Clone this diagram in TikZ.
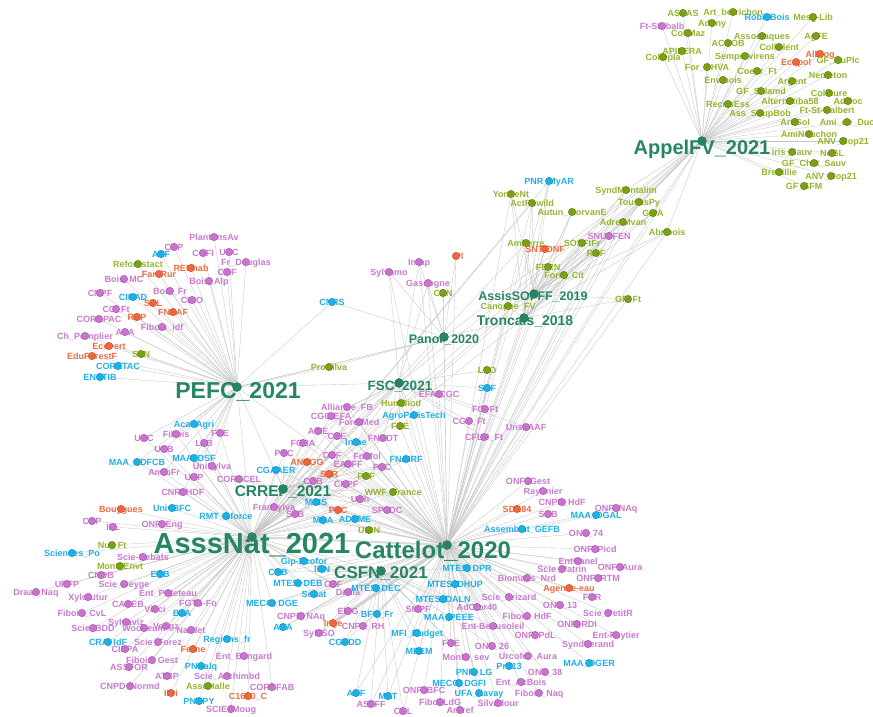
\documentclass[tikz,border=0pt]{standalone}
\usepackage{fontspec}
\setmainfont{Liberation Sans}
\usetikzlibrary{backgrounds}

\definecolor{hubc}{RGB}{38,134,100}
\definecolor{grc}{RGB}{122,160,20}
\definecolor{grt}{RGB}{150,180,45}
\definecolor{pkc}{RGB}{204,112,210}
\definecolor{pkt}{RGB}{200,122,205}
\definecolor{cyc}{RGB}{24,178,235}
\definecolor{cyt}{RGB}{30,175,230}
\definecolor{orc}{RGB}{240,102,58}
\definecolor{ort}{RGB}{236,108,66}

\tikzset{
  edge/.style={gray!45, line width=0.35pt},
  lbl/.style={font=\bfseries\fontsize{9}{9}\selectfont, text height=6.5pt, text depth=0pt, inner sep=0pt},
  dot/.style={circle, fill=#1, draw=#1!70!black, line width=0.3pt, minimum size=7.5pt, inner sep=0pt},
  hub/.style={circle, fill=hubc, draw=hubc!70!black, line width=0.3pt, minimum size=9pt, inner sep=0pt},
  hubtxt/.style={text=hubc, font=\bfseries\fontsize{#1}{#1}\selectfont, text height={0.72*#1pt}, text depth=0pt, inner sep=0pt}
}

% small node: label, then dot on top
\newcommand{\nd}[4]{%
  \node[lbl, text=#3t] (#1t) at (#2) {#4};
  \node[dot=#3c] (#1) at (#2) {};}
% hub: dot, then big label
\newcommand{\hb}[5]{%
  \node[hub] (#1) at (#2) {};
  \node[hubtxt=#4] (#1t) at (#3) {#5};}

\begin{document}
\begin{tikzpicture}[x=1pt, y=-1pt]
  \useasboundingbox (0,0) rectangle (873,716);

  % AppelFV cluster
  \nd{a1}{683,13}{gr}{ASSAS}
  \nd{a2}{733,12}{gr}{Art\_berrichon}
  \nd{a3}{767,17}{cy}{RobinBois}
  \nd{a4}{813,17}{gr}{Mesg-Lib}
  \nd{a5}{662,26}{pk}{Ft-Stobalb}
  \nd{a6}{712,23}{gr}{Adony}
  \nd{a7}{688,33}{gr}{CollMaz}
  \nd{a8}{762,36}{gr}{Associaques}
  \nd{a9}{816,36}{gr}{AgFE}
  \nd{a10}{728,43}{gr}{ACCOB}
  \nd{a11}{779,47}{gr}{CollClent}
  \nd{a12}{682,51}{gr}{APIFERA}
  \nd{a13}{663,57}{gr}{Collepla}
  \nd{a14}{745,56}{gr}{Sempervirens}
  \nd{a15}{820,54}{or}{AlBlog}
  \nd{a16}{796,62}{or}{Ecopol}
  \nd{a17}{838,60}{gr}{GF\_DuPlc}
  \nd{a18}{707,67}{gr}{For\_CHVA}
  \nd{a19}{757,71}{gr}{Coeur\_Ft}
  \nd{a20}{828,75}{gr}{Nemeton}
  \nd{a21}{723,80}{gr}{Envibois}
  \nd{a22}{792,81}{gr}{Argent}
  \nd{a23}{761,91}{gr}{GF\_Salamd}
  \nd{a24}{829,93}{gr}{CollLure}
  \nd{a25}{728,104}{gr}{RecrisEss}
  \nd{a26}{790,101}{gr}{Alternatiba58}
  \nd{a27}{848,101}{gr}{AdHoc}
  \nd{a28}{760,113}{gr}{Ass\_SoupBob}
  \nd{a29}{827,110}{gr}{Ft-St-Galbert}
  \nd{a30}{795,122}{gr}{ArtiSol}
  \nd{a31}{847,122}{gr}{Ami\_de\_Duc}
  \nd{a32}{809,134}{gr}{AmiNouchon}
  \nd{a33}{843,141}{gr}{ANV\_Cop21}
  \nd{a34}{792,152}{gr}{iris\_Sauv}
  \nd{a35}{832,153}{gr}{NoBL}
  \nd{a36}{814,163}{gr}{GF\_Chat\_Sauv}
  \nd{a37}{779,172}{gr}{Breuillie}
  \nd{a38}{831,176}{gr}{ANV\_Cop21}
  \nd{a39}{804,186}{gr}{GF\_SFM}

  % shared between AppelFV and Troncais
  \nd{s1}{626,190}{gr}{SyndMontalim}
  \nd{s2}{639,202}{gr}{TousasPy}
  \nd{s3}{653,213}{gr}{GIPA}
  \nd{s4}{623,222}{gr}{AdretMvan}
  \nd{s5}{667,232}{gr}{Abribois}
  \nd{s6}{609,236}{pk}{SNUPFEN}

  % Troncais / AssisSOFFF cluster
  \nd{t1}{549,181}{cy}{PNR\_MyAR}
  \nd{t2}{511,194}{gr}{YonneNt}
  \nd{t3}{532,203}{gr}{ActRewild}
  \nd{t4}{572,212}{gr}{Autun\_MorvanE}
  \nd{t5}{526,243}{gr}{Amberre}
  \nd{t6}{545,249}{or}{SNT-ONF}
  \nd{t7}{582,243}{gr}{SOSFtFr}
  \nd{t8}{596,253}{gr}{RDF}
  \nd{t9}{548,267}{gr}{FERN}
  \nd{t10}{564,275}{gr}{Foret\_Cit}
  \nd{t11}{508,306}{gr}{Canopee\_FV}
  \nd{t12}{628,299}{gr}{GF\_Ft}

  % Panor cluster
  \nd{p1}{389,272}{pk}{Sylvamo}
  \nd{p2}{419,262}{pk}{Inrap}
  \nd{p3}{428,283}{pk}{Gascogne}
  \node[lbl, text=ort] (p4t) at (459,256) {Pl};
  \node[dot=orc] (p4) at (456,256) {};
  \nd{p5}{443,293}{gr}{CEN}
  \nd{p6}{332,302}{cy}{CNRS}
  \nd{p7}{329,367}{gr}{ProSilva}

  % FSC cluster
  \nd{f1}{347,407}{pk}{Alliance\_FB}
  \nd{f2}{331,416}{pk}{CGC-EFA}
  \nd{f3}{359,422}{pk}{ForetMed}
  \nd{f4}{401,403}{gr}{HumBiod}
  \nd{f5}{414,415}{cy}{AgroParisTech}
  \nd{f6}{400,426}{gr}{FNE}
  \nd{f7}{439,394}{pk}{EFA-CGC}
  \nd{f8}{487,370}{gr}{LPO}
  \nd{f9}{487,388}{cy}{SNF}
  \nd{f10}{485,409}{pk}{FO\_Ft}
  \nd{f11}{469,421}{pk}{CGP\_Ft}
  \nd{f12}{484,437}{pk}{CFLO\_Ft}
  \nd{f13}{526,427}{pk}{UnsaAAF}
  \nd{f14}{318,431}{pk}{AFIE}
  \nd{f15}{337,436}{pk}{CNE}
  \nd{f16}{356,442}{cy}{Inrae}
  \nd{f17}{383,438}{pk}{FNADT}

  % CRREF cluster
  \nd{c1}{303,443}{pk}{FCBA}
  \nd{c2}{284,453}{pk}{PNC}
  \nd{c3}{332,455}{pk}{CNF}
  \nd{c4}{367,456}{pk}{Fnbfol}
  \nd{c5}{406,459}{cy}{FNAIRF}
  \nd{c6}{307,462}{or}{ANDGG}
  \nd{c7}{348,464}{pk}{EAFFF}
  \nd{c8}{382,467}{pk}{PEC}
  \nd{c9}{329,474}{or}{SFR}
  \nd{c10}{366,476}{gr}{PEF}
  \nd{c11}{313,481}{pk}{CCB}
  \nd{c12}{346,484}{pk}{CRPF}
  \nd{c13}{393,492}{gr}{WWF\_France}
  \nd{c14}{360,499}{pk}{URh}
  \nd{c15}{316,502}{cy}{MAIS}
  \nd{c16}{338,510}{or}{PSC}
  \nd{c17}{387,510}{pk}{SPFDC}
  \nd{c18}{323,520}{cy}{MAA}
  \nd{c19}{355,519}{cy}{ADEME}
  \nd{c20}{369,530}{gr}{UICN}
  \nd{c21}{276,470}{cy}{CGAAER}
  \nd{c22}{274,507}{pk}{Fransylva}
  \nd{c23}{239,479}{pk}{CORACEL}
  \nd{c24}{295,514}{pk}{SFB}

  % PEFC cluster
  \nd{e1}{214,237}{pk}{PlantonsAv}
  \nd{e2}{174,247}{pk}{CSP}
  \nd{e3}{161,254}{cy}{AEF}
  \nd{e4}{203,253}{pk}{COFI}
  \nd{e5}{229,252}{pk}{URC}
  \nd{e6}{246,262}{pk}{Fr\_Douglas}
  \nd{e7}{227,272}{pk}{COF}
  \nd{e8}{138,264}{gr}{Reforestact}
  \nd{e9}{159,274}{or}{FamRur}
  \nd{e10}{191,268}{or}{RENhab}
  \nd{e11}{124,279}{pk}{Bois\_MC}
  \nd{e12}{209,281}{pk}{Bois\_Alp}
  \nd{e13}{100,293}{pk}{CNPF}
  \nd{e14}{133,297}{cy}{CIRAD}
  \nd{e15}{170,291}{pk}{Bois\_Fr}
  \nd{e16}{153,303}{or}{SNL}
  \nd{e17}{192,300}{pk}{CIBO}
  \nd{e18}{173,312}{or}{FNSAF}
  \nd{e19}{116,309}{pk}{CO\_Ft}
  \nd{e20}{99,319}{pk}{CORAPAC}
  \nd{e21}{137,317}{or}{RDP}
  \nd{e22}{162,327}{pk}{Fibois\_idf}
  \nd{e23}{125,332}{pk}{ASA}
  \nd{e24}{85,336}{pk}{Ch\_Pomplier}
  \nd{e25}{109,346}{or}{Ecovert}
  \nd{e26}{92,356}{or}{EduForestF}
  \nd{e27}{141,354}{gr}{SFN}
  \nd{e28}{118,366}{cy}{CORETAC}
  \nd{e29}{100,377}{cy}{ENSTIB}

  % AsssNat cluster
  \nd{n1}{194,424}{cy}{AcadAgri}
  \nd{n2}{144,438}{pk}{UNC}
  \nd{n3}{176,434}{pk}{Fibois}
  \nd{n4}{220,433}{pk}{FBE}
  \nd{n5}{204,443}{pk}{LFB}
  \nd{n6}{164,449}{pk}{UCB}
  \nd{n7}{137,462}{cy}{MAA\_SDFCB}
  \nd{n8}{194,458}{cy}{MAA\_DSF}
  \nd{n9}{164,472}{pk}{AmibFr}
  \nd{n10}{212,466}{pk}{UniSylva}
  \nd{n11}{194,477}{pk}{UCP}
  \nd{n12}{183,492}{pk}{CNR\_HDF}
  \nd{n13}{172,508}{cy}{UnivBFC}
  \nd{n14}{121,509}{or}{Bouygues}
  \nd{n15}{226,516}{cy}{RMT\_Aforce}
  \nd{n16}{92,521}{pk}{CNP}
  \nd{n17}{113,527}{pk}{IFL}
  \nd{n18}{162,524}{pk}{ONF\_Eng}
  \nd{n19}{112,545}{gr}{Nut\_Ft}
  \nd{n20}{72,553}{cy}{Sciences\_Po}
  \nd{n21}{143,557}{pk}{Scie-Debats}
  \nd{n22}{120,566}{gr}{Mont\_Envt}
  \nd{n23}{101,575}{pk}{CNDB}
  \nd{n24}{160,574}{cy}{ECB}
  \nd{n25}{67,584}{pk}{URFP}
  \nd{n26}{124,584}{pk}{Scie\_Deyge}
  \nd{n27}{36,592}{pk}{Draaf\_Naq}
  \nd{n28}{88,597}{pk}{Xylofutur}
  \nd{n29}{168,593}{pk}{Ent\_Poteteau}
  \nd{n30}{128,604}{pk}{CAPEB}
  \nd{n31}{198,603}{pk}{FGTA-Fo}
  \nd{n32}{155,609}{pk}{Vinci}
  \nd{n33}{182,613}{cy}{BPA}
  \nd{n34}{82,613}{pk}{Fibois\_CvL}
  \nd{n35}{126,622}{pk}{Sylvaviz}
  \nd{n36}{93,628}{pk}{Scie\_BDD}
  \nd{n37}{144,628}{pk}{Woodeum}
  \nd{n38}{166,626}{pk}{Vosgz}
  \nd{n39}{191,630}{pk}{Nardet}
  \nd{n40}{108,642}{cy}{CRA\_IdF}
  \nd{n41}{158,642}{pk}{Scie\_Forez}
  \nd{n42}{125,649}{pk}{CIPPA}
  \nd{n43}{227,639}{cy}{Regions\_fr}
  \nd{n44}{193,649}{or}{Ferne}
  \nd{n45}{244,656}{pk}{Ent\_Bengard}
  \nd{n46}{152,660}{pk}{Fibois\_Gest}
  \nd{n47}{129,667}{pk}{ASSFOR}
  \nd{n48}{201,666}{cy}{PNCalq}
  \nd{n49}{167,676}{pk}{ATBP}
  \nd{n50}{227,676}{pk}{Scie\_Archimbd}
  \nd{n51}{130,686}{pk}{CNPD\_Normd}
  \nd{n52}{208,686}{gr}{AssoHalle}
  \nd{n53}{272,687}{pk}{CORAFAB}
  \nd{n54}{171,693}{or}{Ikri}
  \nd{n55}{248,696}{or}{C1600\_C}
  \nd{n56}{199,701}{cy}{PNRPY}
  \nd{n57}{231,709}{pk}{SCIE\_Moug}

  % CSFN cluster
  \nd{m1}{304,561}{cy}{Gip-Ecofor}
  \nd{m2}{278,572}{cy}{CNB}
  \nd{m3}{322,569}{cy}{IGN}
  \nd{m4}{298,583}{cy}{MTES\_DEB}
  \nd{m5}{333,584}{pk}{CEF}
  \nd{m6}{314,594}{cy}{Senat}
  \nd{m7}{348,592}{pk}{Dalila}
  \nd{m8}{376,588}{cy}{MTES\_DEC}
  \nd{m9}{272,603}{cy}{MECO\_DGE}
  \nd{m10}{283,627}{cy}{ANA}
  \nd{m11}{301,616}{pk}{CNPF\_NAq}
  \nd{m12}{348,611}{pk}{EIFG}
  \nd{m13}{377,614}{cy}{BFC\_Fr}
  \nd{m14}{333,623}{or}{Inge}
  \nd{m15}{363,626}{pk}{CNPF\_RH}
  \nd{m16}{319,633}{pk}{SylvSO}
  \nd{m17}{345,642}{cy}{CGEDD}
  \nd{m18}{356,693}{cy}{ANF}
  \nd{m19}{388,696}{cy}{MAT}
  \nd{m20}{371,704}{pk}{ASTFF}
  \nd{m21}{403,711}{pk}{CAL}

  % Cattelot cluster
  \nd{k1}{528,481}{pk}{ONF\_Gest}
  \nd{k2}{543,491}{pk}{Rayonier}
  \nd{k3}{562,502}{pk}{CNPF\_HdF}
  \nd{k4}{517,509}{or}{SDE84}
  \nd{k5}{548,514}{pk}{SNB}
  \nd{k6}{596,515}{cy}{MAA\_DGAL}
  \nd{k7}{616,508}{pk}{ONF\_NAq}
  \nd{k8}{522,529}{cy}{Assemblat\_GEFB}
  \nd{k9}{586,533}{pk}{ONF\_74}
  \nd{k10}{595,549}{pk}{ONF\_Picd}
  \nd{k11}{578,561}{pk}{EntCanel}
  \nd{k12}{620,567}{pk}{ONF\_Aura}
  \nd{k13}{562,569}{pk}{Scie\_Patrin}
  \nd{k14}{598,578}{pk}{ONF\_RTM}
  \nd{k15}{527,578}{pk}{Biomass\_Nrd}
  \nd{k16}{569,588}{or}{Agence-eau}
  \nd{k17}{592,597}{pk}{FNR}
  \nd{k18}{560,605}{pk}{ONF\_13}
  \nd{k19}{608,613}{pk}{Scie\_PetitR}
  \nd{k20}{527,616}{pk}{Fibois\_HdF}
  \nd{k21}{577,624}{pk}{ONF\_RDI}
  \nd{k22}{616,635}{pk}{Ent-Faytier}
  \nd{k23}{535,635}{pk}{ONF\_PdL}
  \nd{k24}{588,644}{pk}{SyndFerand}
  \nd{k25}{589,663}{cy}{MAA\_DGER}
  \nd{k26}{545,672}{pk}{ONF\_38}
  \nd{k27}{521,682}{pk}{Ent\_AcBois}
  \nd{k28}{539,693}{pk}{Fibois\_Naq}
  \nd{k29}{509,597}{pk}{Scie\_Brizard}
  \nd{k30}{467,568}{cy}{MTES\_DPR}
  \nd{k31}{455,584}{cy}{MTES\_DHUP}
  \nd{k32}{443,599}{cy}{MTES\_DALN}
  \nd{k33}{418,609}{pk}{SMPF}
  \nd{k34}{477,607}{pk}{AdCfor40}
  \nd{k35}{449,617}{cy}{MAA\_PEEE}
  \nd{k36}{493,626}{pk}{Ent-Beausoleil}
  \nd{k37}{417,633}{cy}{MFI\_Budget}
  \nd{k38}{451,643}{pk}{FCE}
  \nd{k39}{492,646}{pk}{ONF\_26}
  \nd{k40}{419,651}{cy}{MEEM}
  \nd{k41}{466,657}{pk}{Monta\_sev}
  \nd{k42}{528,656}{pk}{Urcofor\_Aura}
  \nd{k43}{509,666}{cy}{Pro13}
  \nd{k44}{474,672}{cy}{PNR\_LG}
  \nd{k45}{459,683}{cy}{MECO\_DGFI}
  \nd{k46}{424,690}{pk}{ONF\_BFC}
  \nd{k47}{479,693}{cy}{UFA\_Lavay}
  \nd{k48}{440,702}{pk}{Fibo\_LdG}
  \nd{k49}{460,710}{pk}{Arbref}
  \nd{k50}{498,703}{pk}{Silvadour}

  % Hubs
  \hb{appel}{702,141}{702,147}{20}{AppelFV\_2021}
  \hb{tronc}{524,318}{525,320}{14}{Troncais\_2018}
  \hb{assis}{534,294}{533,296}{12.5}{AssisSOFFF\_2019}
  \hb{panor}{444,337}{444,339}{12.5}{Panor\_2020}
  \hb{fsc}{399,383}{400,386}{13.5}{FSC\_2021}
  \hb{pefc}{237,387}{238,390}{23}{PEFC\_2021}
  \hb{crref}{283,489}{283,491}{15.5}{CRREF\_2021}
  \hb{csfn}{381,571}{381,572}{17}{CSFN\_2021}
  \hb{asss}{252,537}{252,543}{29}{AsssNat\_2021}
  \hb{catt}{447,545}{433,550}{24}{Cattelot\_2020}

  % Edges
  \begin{pgfonlayer}{background}
    \foreach \i in {1,...,39} \draw[edge] (appel) -- (a\i);
    \foreach \i in {1,...,6} {
      \draw[edge] (appel) -- (s\i);
      \draw[edge] (tronc) -- (s\i);
      \draw[edge] (assis) -- (s\i);
      \draw[edge] (catt) -- (s\i);
    }
    \foreach \i in {1,...,12} {
      \draw[edge] (tronc) -- (t\i);
      \draw[edge] (assis) -- (t\i);
      \draw[edge] (catt) -- (t\i);
    }
    \foreach \i in {1,3,5,9} \draw[edge] (asss) -- (t\i);
    \foreach \i in {1,...,7} \draw[edge] (panor) -- (p\i);
    \foreach \i in {1,2,3,4,5} \draw[edge] (catt) -- (p\i);
    \foreach \i in {1,2,3} \draw[edge] (fsc) -- (p\i);
    \foreach \i in {6,7} \draw[edge] (pefc) -- (p\i);
    \foreach \i in {1,...,17} {
      \draw[edge] (fsc) -- (f\i);
      \draw[edge] (catt) -- (f\i);
    }
    \foreach \i in {1,2,3,14,15,16,17} \draw[edge] (asss) -- (f\i);
    \foreach \i in {1,...,24} {
      \draw[edge] (crref) -- (c\i);
      \draw[edge] (asss) -- (c\i);
      \draw[edge] (catt) -- (c\i);
    }
    \foreach \i in {1,...,29} \draw[edge] (pefc) -- (e\i);
    \foreach \i in {1,...,57} \draw[edge] (asss) -- (n\i);
    \foreach \i in {1,...,12} \draw[edge] (pefc) -- (n\i);
    \foreach \i in {1,...,21} {
      \draw[edge] (csfn) -- (m\i);
      \draw[edge] (catt) -- (m\i);
    }
    \foreach \i in {1,...,9} \draw[edge] (asss) -- (m\i);
    \foreach \i in {1,...,50} \draw[edge] (catt) -- (k\i);
    \foreach \i in {30,...,41} \draw[edge] (csfn) -- (k\i);

    % links between hubs
    \foreach \a/\b in {appel/tronc, appel/assis, appel/catt, appel/asss, appel/fsc,
      appel/panor, tronc/catt, tronc/asss, tronc/pefc, assis/catt, assis/asss,
      panor/catt, panor/asss, fsc/catt, fsc/asss, fsc/pefc, pefc/asss, pefc/catt,
      pefc/crref, crref/asss, crref/catt, csfn/catt, csfn/asss, panor/pefc}
      \draw[edge] (\a) -- (\b);
    \draw[gray!30, line width=2pt] (asss) -- (catt);
    \draw[gray!35, line width=3pt] (m14) -- (catt);
  \end{pgfonlayer}
\end{tikzpicture}
\end{document}
